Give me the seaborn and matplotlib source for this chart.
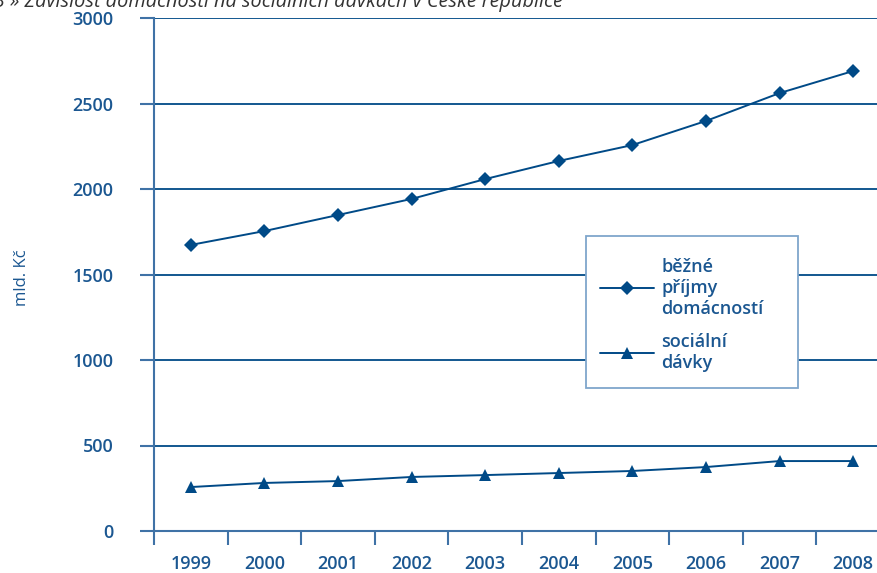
import pandas as pd
import numpy as np
import matplotlib.pyplot as plt
import seaborn as sns
from matplotlib.patches import Rectangle

# data (mld. Kč)
years = [1999, 2000, 2001, 2002, 2003, 2004, 2005, 2006, 2007, 2008]
prijmy = [1673, 1754, 1848, 1942, 2058, 2164, 2257, 2398, 2561, 2690]
davky = [257, 281, 292, 316, 327, 339, 351, 374, 409, 409]

label_prijmy = "běžné\npříjmy\ndomácností"
label_davky = "sociální\ndávky"

df = pd.DataFrame({"rok": years, "prijmy": prijmy, "davky": davky})

sns.set_theme(style="white")
plt.rcParams["font.family"] = ["Open Sans", "DejaVu Sans"]

blue = "#004a87"
axis_blue = "#3f72a6"
text_blue = "#1b5791"
fs = 13
wt = "semibold"

fig = plt.figure(figsize=(8.77, 5.73), dpi=100)
ax = fig.add_axes([154 / 877, 42 / 573, 736 / 877, 513 / 573])

sns.lineplot(data=df, x="rok", y="prijmy", ax=ax, color=blue, linewidth=1.4,
             marker="D", markersize=7.5, markeredgewidth=0, label=label_prijmy)
sns.lineplot(data=df, x="rok", y="davky", ax=ax, color=blue, linewidth=1.4,
             marker="^", markersize=9, markeredgewidth=0, label=label_davky)

ax.set_xlim(years[0] - 0.5, years[-1] + 0.5)
ax.set_ylim(0, 3000)
ax.set_yticks(np.arange(0, 3001, 500))
ax.set_xticks(years)
ax.set_xticks(np.arange(years[0] - 0.5, years[-1] + 0.6, 1), minor=True)

for v in np.arange(500, 3001, 500):
    ax.axhline(v, color=blue, linewidth=1.3, zorder=0)

for s in ["top", "right"]:
    ax.spines[s].set_visible(False)
for s in ["left", "bottom"]:
    ax.spines[s].set_color(axis_blue)
    ax.spines[s].set_linewidth(1.5)

ax.tick_params(axis="y", which="major", length=10, width=1.5, color=axis_blue,
               labelcolor=text_blue, labelsize=fs, pad=19, direction="out", left=True)
ax.tick_params(axis="x", which="major", length=0, labelcolor=text_blue, labelsize=fs, pad=17)
ax.tick_params(axis="x", which="minor", length=10, width=1.5, color=axis_blue,
               direction="out", bottom=True)
for t in ax.get_xticklabels() + ax.get_yticklabels():
    t.set_fontweight(wt)

ax.set_xlabel("")
ax.set_ylabel("")
fig.text(22 / 877, 1 - 278 / 573, "mld. Kč", rotation=90, ha="center", va="center",
         color=text_blue, fontsize=12)

fig.text(-6 / 877, 1 + 13 / 573, "3 » Závislost domácností na sociálních dávkách v České republice",
         ha="left", va="top", fontsize=14.3, style="italic", color="#333333")

# legend frame: box at roughly x 586-798, y 236-388 px in the reference
box = Rectangle((586 / 877, 1 - 388 / 573), 212 / 877, 152 / 573, transform=fig.transFigure,
                facecolor="white", edgecolor="#7fa6cc", linewidth=1.3, zorder=4)
ax.add_artist(box)
box.set_clip_on(False)

leg = ax.legend(loc="upper left", bbox_to_anchor=(600 / 877, 1 - 258 / 573),
                bbox_transform=fig.transFigure, frameon=False,
                prop={"size": fs, "weight": wt}, handlelength=3.0,
                labelspacing=0.85, borderpad=0, handletextpad=0.4, borderaxespad=0)
leg.set_zorder(5)
for t in leg.get_texts():
    t.set_color(text_blue)
    t.set_linespacing(1.2)

plt.savefig("out.png", dpi=100)
